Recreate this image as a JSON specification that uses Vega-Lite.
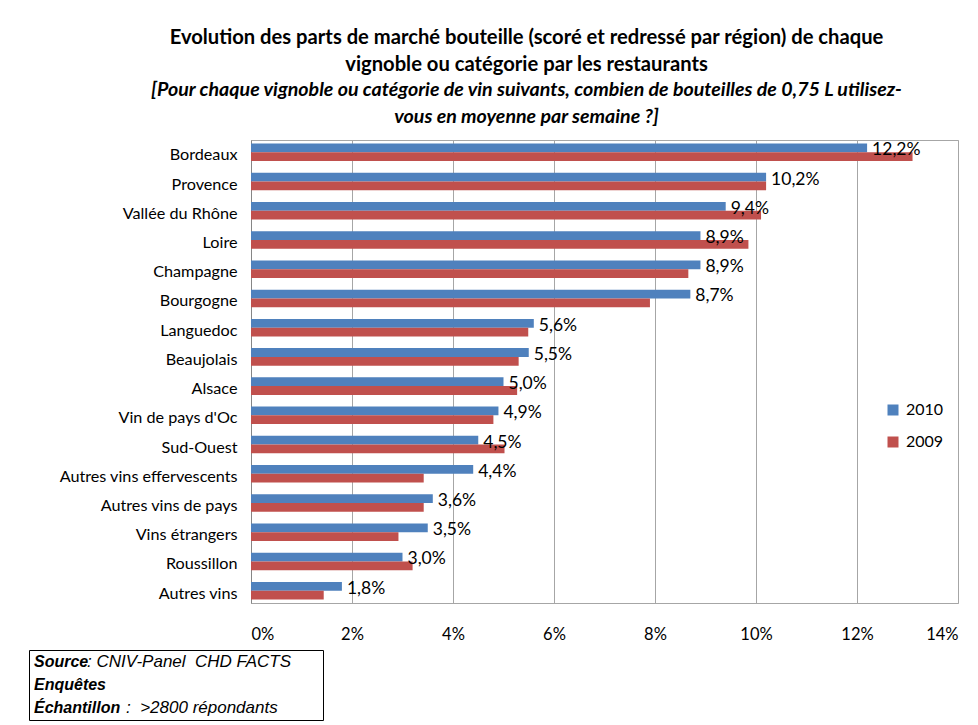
{
  "$schema": "https://vega.github.io/schema/vega-lite/v6.json",
  "padding": {"left": 28, "top": 27, "right": 4, "bottom": 4},
  "background": "white",
  "title": {
    "text": ["Evolution des parts de marché bouteille (scoré et redressé par région) de chaque", "vignoble ou catégorie par les restaurants"],
    "subtitle": ["[Pour chaque vignoble ou catégorie de vin suivants, combien de bouteilles de 0,75 L utilisez-", "vous en moyenne par semaine ?]"],
    "font": "Lato", "fontSize": 20.2, "fontWeight": "bold", "lineHeight": 27, "color": "#000000",
    "subtitleFont": "Lato", "subtitleFontSize": 19.6, "subtitleFontStyle": "italic", "subtitleFontWeight": "bold",
    "subtitleLineHeight": 27, "subtitleColor": "#000000", "subtitlePadding": 6,
    "anchor": "middle", "dx": 33, "offset": 13
  },
  "spacing": 6,
  "vconcat": [
    {
      "spacing": 28,
      "hconcat": [
        {
          "width": 1,
          "height": 10,
          "view": {"stroke": null},
          "data": {"values": []},
          "mark": "rect"
        },
        {
          "width": 707,
          "height": 463,
          "data": {"values": [
            {"cat": "Bordeaux", "year": "2010", "share": 0.122},
            {"cat": "Bordeaux", "year": "2009", "share": 0.131},
            {"cat": "Provence", "year": "2010", "share": 0.102},
            {"cat": "Provence", "year": "2009", "share": 0.102},
            {"cat": "Vallée du Rhône", "year": "2010", "share": 0.094},
            {"cat": "Vallée du Rhône", "year": "2009", "share": 0.101},
            {"cat": "Loire", "year": "2010", "share": 0.089},
            {"cat": "Loire", "year": "2009", "share": 0.0985},
            {"cat": "Champagne", "year": "2010", "share": 0.089},
            {"cat": "Champagne", "year": "2009", "share": 0.0866},
            {"cat": "Bourgogne", "year": "2010", "share": 0.087},
            {"cat": "Bourgogne", "year": "2009", "share": 0.079},
            {"cat": "Languedoc", "year": "2010", "share": 0.056},
            {"cat": "Languedoc", "year": "2009", "share": 0.0549},
            {"cat": "Beaujolais", "year": "2010", "share": 0.055},
            {"cat": "Beaujolais", "year": "2009", "share": 0.053},
            {"cat": "Alsace", "year": "2010", "share": 0.050},
            {"cat": "Alsace", "year": "2009", "share": 0.0527},
            {"cat": "Vin de pays d'Oc", "year": "2010", "share": 0.049},
            {"cat": "Vin de pays d'Oc", "year": "2009", "share": 0.048},
            {"cat": "Sud-Ouest", "year": "2010", "share": 0.045},
            {"cat": "Sud-Ouest", "year": "2009", "share": 0.0502},
            {"cat": "Autres vins effervescents", "year": "2010", "share": 0.044},
            {"cat": "Autres vins effervescents", "year": "2009", "share": 0.0342},
            {"cat": "Autres vins de pays", "year": "2010", "share": 0.036},
            {"cat": "Autres vins de pays", "year": "2009", "share": 0.0342},
            {"cat": "Vins étrangers", "year": "2010", "share": 0.035},
            {"cat": "Vins étrangers", "year": "2009", "share": 0.0292},
            {"cat": "Roussillon", "year": "2010", "share": 0.030},
            {"cat": "Roussillon", "year": "2009", "share": 0.032},
            {"cat": "Autres vins", "year": "2010", "share": 0.018},
            {"cat": "Autres vins", "year": "2009", "share": 0.0144}
          ]},
          "view": {"stroke": "#A6A6A6", "strokeWidth": 1},
          "encoding": {
            "y": {
              "field": "cat", "type": "nominal",
              "sort": ["Bordeaux", "Provence", "Vallée du Rhône", "Loire", "Champagne", "Bourgogne", "Languedoc", "Beaujolais", "Alsace", "Vin de pays d'Oc", "Sud-Ouest", "Autres vins effervescents", "Autres vins de pays", "Vins étrangers", "Roussillon", "Autres vins"],
              "scale": {"paddingInner": 0.4, "paddingOuter": 0.12},
              "axis": {
                "title": null,
                "domain": true, "domainColor": "#868686", "ticks": false,
                "labelFont": "Lato", "labelFontSize": 16.2, "labelColor": "#000000",
                "labelPadding": 14, "labelOffset": 3, "labelLimit": 400
              }
            },
            "x": {
              "field": "share", "type": "quantitative",
              "scale": {"domain": [0, 0.14], "nice": false},
              "axis": {
                "title": null, "values": [0, 0.02, 0.04, 0.06, 0.08, 0.1, 0.12, 0.14], "format": ".0%",
                "grid": true, "gridColor": "#A6A6A6", "domain": false, "ticks": false,
                "labelFont": "Lato", "labelFontSize": 16.5, "labelColor": "#000000", "labelPadding": 23
              }
            }
          },
          "layer": [
            {
              "mark": {"type": "bar"},
              "encoding": {
                "yOffset": {"field": "year", "type": "nominal", "sort": ["2010", "2009"]},
                "color": {
                  "field": "year", "type": "nominal",
                  "scale": {"domain": ["2010", "2009"], "range": ["#4F81BD", "#C0504D"]},
                  "legend": {
                    "title": null, "orient": "none", "legendX": 856, "legendY": 262,
                    "symbolType": "square", "symbolSize": 121, "symbolStrokeWidth": 0,
                    "labelFont": "Lato", "labelFontSize": 16, "labelColor": "#000000",
                    "labelOffset": 5, "rowPadding": 16
                  }
                }
              }
            },
            {
              "transform": [{"filter": "datum.year === '2010'"}],
              "mark": {"type": "text", "align": "left", "baseline": "middle", "dx": 5, "dy": -2, "font": "Lato", "fontSize": 17.5, "color": "#000000"},
              "encoding": {
                "text": {"field": "share", "type": "quantitative", "format": ".1%"}
              }
            }
          ]
        }
      ]
    },
    {
      "width": 294,
      "height": 70,
      "view": {"stroke": "#000000", "strokeWidth": 1},
      "data": {"values": [
        {"line": 1, "bold": "Source", "rest": "\u00a0: CNIV-Panel\u00a0\u00a0CHD FACTS"},
        {"line": 2, "bold": "Enquêtes", "rest": ""},
        {"line": 3, "bold": "Échantillon", "rest": "\u00a0:\u00a0\u00a0>2800 répondants"}
      ]},
      "encoding": {
        "y": {"field": "line", "type": "ordinal", "axis": null},
        "x": {"datum": 0, "type": "quantitative", "scale": {"domain": [0, 1]}, "axis": null}
      },
      "layer": [
        {
          "mark": {"type": "text", "align": "left", "baseline": "middle", "dx": 5, "font": "Liberation Sans", "fontSize": 16, "fontStyle": "italic", "fontWeight": "bold", "color": "#000000"},
          "encoding": {"text": {"field": "bold"}}
        },
        {
          "transform": [{"filter": "datum.line === 1"}],
          "mark": {"type": "text", "align": "left", "baseline": "middle", "dx": 58, "font": "Liberation Sans", "fontSize": 17, "fontStyle": "italic", "color": "#000000"},
          "encoding": {"text": {"field": "rest"}}
        },
        {
          "transform": [{"filter": "datum.line === 3"}],
          "mark": {"type": "text", "align": "left", "baseline": "middle", "dx": 97, "font": "Liberation Sans", "fontSize": 17, "fontStyle": "italic", "color": "#000000"},
          "encoding": {"text": {"field": "rest"}}
        }
      ]
    }
  ],
  "config": {
    "locale": {"number": {"decimal": ",", "thousands": " ", "grouping": [3], "currency": ["", " €"], "percent": "%"}},
    "font": "Lato"
  }
}
